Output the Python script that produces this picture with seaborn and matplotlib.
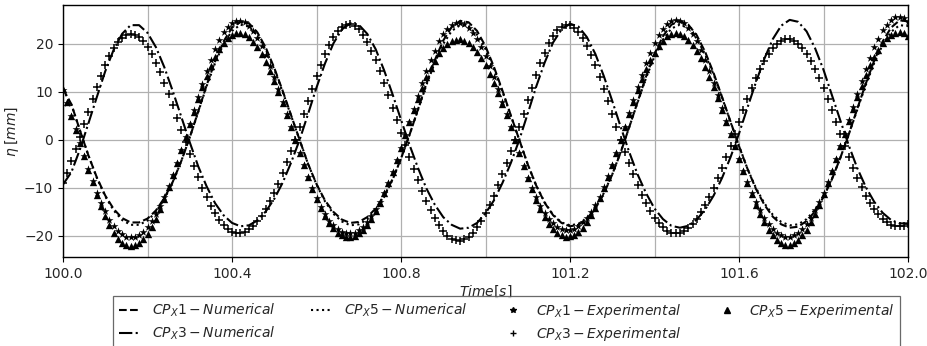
import numpy as np
import matplotlib
matplotlib.use("Agg")
import matplotlib.pyplot as plt
import seaborn as sns
from matplotlib.lines import Line2D
from matplotlib.ticker import MultipleLocator

# ---------------- data ----------------
time_num = np.linspace(100.0, 102.0, 101)   # numerical series, 0.02 s
time_exp = np.linspace(100.0, 102.0, 201)   # experimental series, 0.01 s

cpx1_num = [10.6, 7.4, 2.0, -3.2, -7.8, -11.6, -14.4, -16.3, -17.2, -17.2,
            -16.4, -14.7, -12.1, -8.7, -4.4, 0.5, 5.9, 11.4, 16.4, 20.5,
            23.4, 24.6, 24.3, 22.4, 19.2, 15.0, 10.2, 5.1, 0.0, -5.0,
            -9.2, -12.6, -15.0, -16.6, -17.3, -17.1, -16.1, -14.3, -11.7, -8.2,
            -3.9, 1.0, 6.3, 11.7, 16.6, 20.7, 23.5, 24.8, 24.5, 22.7,
            19.5, 15.2, 10.3, 5.1, 0.0, -5.1, -9.5, -13.1, -15.7, -17.3,
            -18.0, -17.7, -16.4, -14.3, -11.2, -7.2, -2.6, 2.6, 7.9, 13.2,
            17.9, 21.6, 24.0, 24.8, 24.0, 21.8, 18.3, 13.9, 8.9, 3.8,
            -1.3, -6.0, -10.2, -13.5, -16.0, -17.6, -18.3, -18.1, -16.9, -14.9,
            -11.9, -8.2, -3.7, 1.2, 6.5, 11.7, 16.5, 20.5, 23.4, 24.9,
            24.7]

cpx3_num = [-9.3, -6.7, -2.0, 3.4, 8.9, 14.3, 18.8, 22.1, 23.9, 23.9,
            22.3, 19.3, 15.1, 10.1, 4.8, -0.5, -5.5, -9.7, -13.2, -15.7,
            -17.3, -18.0, -17.8, -16.8, -14.9, -12.3, -8.9, -4.7, 0.0, 5.4,
            10.9, 15.9, 20.1, 23.0, 24.3, 24.0, 22.1, 18.9, 14.5, 9.5,
            4.2, -1.0, -5.8, -10.1, -13.5, -16.1, -17.7, -18.5, -18.3, -17.3,
            -15.3, -12.6, -9.0, -4.8, 0.0, 5.5, 11.1, 16.1, 20.3, 23.0,
            24.2, 23.6, 21.4, 17.9, 13.3, 8.1, 2.7, -2.5, -7.2, -11.1,
            -14.3, -16.5, -17.9, -18.3, -17.9, -16.6, -14.5, -11.6, -7.9, -3.6,
            1.3, 6.7, 12.0, 16.9, 21.0, 23.8, 25.0, 24.6, 22.6, 19.1,
            14.6, 9.3, 4.0, -1.2, -5.9, -9.8, -12.9, -15.2, -16.7, -17.4,
            -17.4]

cpx5_num = [10.5, 7.3, 2.0, -3.2, -7.9, -11.8, -14.7, -16.7, -17.7, -17.7,
            -16.8, -15.0, -12.3, -8.8, -4.4, 0.5, 5.8, 11.2, 16.0, 20.0,
            22.7, 24.0, 23.6, 21.8, 18.8, 14.7, 10.0, 5.0, 0.0, -5.0,
            -9.3, -12.8, -15.4, -17.0, -17.8, -17.6, -16.6, -14.6, -11.9, -8.3,
            -3.9, 1.0, 6.2, 11.4, 16.1, 20.0, 22.7, 23.9, 23.6, 21.9,
            18.9, 14.8, 10.1, 5.0, 0.0, -5.1, -9.5, -13.0, -15.6, -17.2,
            -17.8, -17.5, -16.3, -14.1, -11.1, -7.2, -2.5, 2.6, 7.8, 12.9,
            17.4, 20.9, 23.2, 24.0, 23.3, 21.1, 17.8, 13.6, 8.8, 3.7,
            -1.2, -6.0, -10.0, -13.2, -15.6, -17.1, -17.8, -17.6, -16.5, -14.5,
            -11.7, -8.1, -3.7, 1.2, 6.3, 11.4, 16.0, 19.8, 22.5, 23.9,
            23.7]

cpx1_exp = [10.4, 7.7, 4.9, 2.2, -0.6, -3.4, -6.1, -8.6, -11.0, -13.1,
            -14.9, -16.6, -17.9, -19.0, -19.7, -20.2, -20.3, -20.2, -19.8, -19.1,
            -18.1, -16.9, -15.4, -13.7, -11.8, -9.6, -7.3, -4.8, -2.2, 0.5,
            3.4, 6.2, 9.0, 11.7, 14.3, 16.7, 18.9, 20.8, 22.4, 23.6,
            24.4, 24.8, 24.8, 24.5, 23.8, 22.7, 21.3, 19.6, 17.6, 15.4,
            13.0, 10.5, 7.9, 5.3, 2.6, 0.0, -2.7, -5.3, -7.8, -10.0,
            -12.1, -13.9, -15.4, -16.8, -17.8, -18.6, -19.2, -19.5, -19.5, -19.3,
            -18.8, -18.1, -17.1, -15.9, -14.5, -12.9, -11.0, -8.9, -6.6, -4.2,
            -1.6, 1.1, 3.8, 6.5, 9.2, 11.9, 14.3, 16.6, 18.6, 20.5,
            22.0, 23.1, 23.9, 24.3, 24.4, 24.1, 23.4, 22.3, 21.0, 19.3,
            17.4, 15.3, 13.0, 10.5, 7.9, 5.3, 2.6, 0.0, -2.8, -5.4,
            -7.9, -10.1, -12.0, -13.8, -15.2, -16.5, -17.4, -18.1, -18.6, -18.8,
            -18.7, -18.5, -17.9, -17.2, -16.2, -15.0, -13.5, -11.8, -9.8, -7.6,
            -5.3, -2.7, 0.0, 2.7, 5.5, 8.3, 11.0, 13.5, 16.0, 18.2,
            20.2, 21.9, 23.2, 24.2, 24.8, 25.0, 24.8, 24.3, 23.4, 22.1,
            20.5, 18.7, 16.6, 14.3, 11.8, 9.3, 6.6, 4.0, 1.3, -1.3,
            -4.0, -6.5, -8.8, -11.0, -13.0, -14.7, -16.3, -17.5, -18.6, -19.4,
            -19.9, -20.2, -20.2, -19.9, -19.4, -18.6, -17.5, -16.3, -14.7, -13.0,
            -11.0, -8.8, -6.5, -4.0, -1.3, 1.3, 4.1, 6.8, 9.5, 12.2,
            14.7, 17.1, 19.3, 21.1, 22.8, 24.0, 24.9, 25.5, 25.6, 25.3,
            24.6]

cpx3_exp = [-9.0, -6.8, -4.4, -2.0, 0.5, 3.3, 5.9, 8.5, 11.1, 13.4,
            15.6, 17.5, 19.1, 20.4, 21.3, 21.9, 22.1, 21.9, 21.4, 20.5,
            19.4, 17.9, 16.1, 14.1, 11.9, 9.6, 7.2, 4.6, 2.1, -0.5,
            -3.0, -5.5, -7.8, -10.0, -12.0, -13.8, -15.3, -16.7, -17.7, -18.6,
            -19.1, -19.4, -19.4, -19.1, -18.6, -17.9, -17.0, -15.8, -14.4, -12.8,
            -11.0, -9.1, -7.0, -4.7, -2.4, 0.0, 2.6, 5.3, 8.0, 10.7,
            13.3, 15.7, 17.9, 19.8, 21.4, 22.7, 23.6, 24.0, 24.1, 23.7,
            23.0, 21.9, 20.4, 18.6, 16.6, 14.3, 11.9, 9.3, 6.7, 4.1,
            1.5, -1.0, -3.5, -6.0, -8.3, -10.6, -12.7, -14.6, -16.3, -17.8,
            -19.0, -20.0, -20.6, -20.9, -21.0, -20.7, -20.2, -19.3, -18.2, -16.9,
            -15.3, -13.5, -11.6, -9.4, -7.2, -4.8, -2.4, 0.0, 2.7, 5.4,
            8.3, 10.9, 13.5, 16.0, 18.1, 20.1, 21.7, 22.8, 23.6, 24.0,
            23.9, 23.4, 22.5, 21.2, 19.6, 17.7, 15.5, 13.1, 10.6, 8.0,
            5.3, 2.6, 0.0, -2.5, -4.9, -7.2, -9.4, -11.4, -13.2, -14.8,
            -16.2, -17.3, -18.2, -18.9, -19.3, -19.4, -19.3, -18.9, -18.3, -17.5,
            -16.4, -15.1, -13.6, -11.9, -10.1, -8.0, -5.9, -3.6, -1.2, 1.2,
            3.8, 6.2, 8.6, 10.8, 12.9, 14.8, 16.5, 17.9, 19.1, 20.0,
            20.7, 21.0, 21.0, 20.7, 20.0, 19.1, 17.9, 16.5, 14.8, 12.9,
            10.8, 8.6, 6.2, 3.8, 1.2, -1.2, -3.6, -5.8, -7.9, -9.8,
            -11.6, -13.1, -14.4, -15.5, -16.5, -17.2, -17.7, -17.9, -18.0, -17.9,
            -17.5]

cpx5_exp = [10.6, 7.9, 5.0, 2.1, -0.6, -3.4, -6.2, -8.8, -11.4, -13.7,
            -15.9, -17.7, -19.3, -20.6, -21.5, -22.0, -22.2, -22.0, -21.5, -20.7,
            -19.6, -18.1, -16.4, -14.5, -12.3, -9.9, -7.4, -4.9, -2.2, 0.5,
            3.3, 5.9, 8.5, 11.0, 13.3, 15.4, 17.3, 18.9, 20.2, 21.2,
            21.9, 22.3, 22.3, 22.0, 21.4, 20.4, 19.3, 17.8, 16.2, 14.3,
            12.2, 9.9, 7.6, 5.1, 2.6, 0.0, -2.7, -5.3, -7.8, -10.2,
            -12.3, -14.2, -15.9, -17.3, -18.4, -19.3, -19.9, -20.2, -20.3, -20.0,
            -19.5, -18.7, -17.7, -16.4, -14.9, -13.1, -11.1, -9.0, -6.6, -4.2,
            -1.6, 1.1, 3.7, 6.2, 8.6, 10.9, 13.0, 14.9, 16.5, 18.0,
            19.1, 20.0, 20.6, 20.9, 21.0, 20.7, 20.2, 19.4, 18.4, 17.1,
            15.5, 13.8, 11.9, 9.7, 7.5, 5.1, 2.6, 0.0, -2.8, -5.4,
            -8.0, -10.3, -12.5, -14.4, -16.0, -17.5, -18.6, -19.4, -19.9, -20.2,
            -20.1, -19.8, -19.2, -18.3, -17.1, -15.7, -14.1, -12.2, -10.0, -7.8,
            -5.3, -2.7, 0.0, 2.6, 5.3, 7.8, 10.3, 12.6, 14.7, 16.6,
            18.2, 19.6, 20.7, 21.6, 22.0, 22.2, 22.0, 21.6, 20.9, 19.8,
            18.5, 17.0, 15.2, 13.2, 11.1, 8.7, 6.3, 3.8, 1.3, -1.3,
            -4.0, -6.5, -9.0, -11.3, -13.5, -15.5, -17.2, -18.7, -19.9, -20.8,
            -21.5, -21.8, -21.8, -21.5, -20.8, -19.9, -18.7, -17.2, -15.5, -13.5,
            -11.3, -9.0, -6.5, -4.0, -1.3, 1.3, 3.9, 6.4, 8.9, 11.3,
            13.5, 15.5, 17.3, 18.8, 20.1, 21.2, 21.9, 22.3, 22.4, 22.2,
            21.6]

labels_num = [r'$CP_X1-Numerical$', r'$CP_X3-Numerical$', r'$CP_X5-Numerical$']
labels_exp = [r'$CP_X1-Experimental$', r'$CP_X3-Experimental$', r'$CP_X5-Experimental$']
x_ticks = [100.0, 100.4, 100.8, 101.2, 101.6, 102.0]
y_ticks = [-20, -10, 0, 10, 20]

# ---------------- figure ----------------
sns.set_style("ticks")
plt.rcParams['font.family'] = ['DejaVu Sans']
plt.rcParams['mathtext.fontset'] = 'dejavusans'

W, H = 928, 346
fig = plt.figure(figsize=(W / 100, H / 100), dpi=100)
ax = fig.add_axes([63 / W, 1 - 257 / H, (908 - 63) / W, (257 - 5) / H])

lw = 1.5
sns.lineplot(x=time_num, y=cpx1_num, ax=ax, color='black', linestyle='--', linewidth=lw, legend=False)
sns.lineplot(x=time_num, y=cpx3_num, ax=ax, color='black', linestyle='-.', linewidth=lw, legend=False)
sns.lineplot(x=time_num, y=cpx5_num, ax=ax, color='black', linestyle=':', linewidth=lw, legend=False)

sns.scatterplot(x=time_exp, y=cpx1_exp, ax=ax, color='black', marker='*', s=36, linewidth=0, legend=False)
sns.scatterplot(x=time_exp, y=cpx3_exp, ax=ax, color='black', marker='+', s=32, linewidth=1.1, legend=False)
sns.scatterplot(x=time_exp, y=cpx5_exp, ax=ax, color='black', marker='^', s=28, linewidth=0, legend=False)

ax.set_xlim(100.0, 102.0)
ax.set_ylim(-24.4, 28.1)
ax.set_xticks(x_ticks)
ax.set_xticklabels([f"{v:.1f}" for v in x_ticks])
ax.set_yticks(y_ticks)
ax.xaxis.set_minor_locator(MultipleLocator(0.2))
ax.grid(True, which='both', color='#b0b0b0', linewidth=0.9)
ax.tick_params(axis='both', which='major', labelsize=10, length=3.5, width=0.8, color='black', direction='out')
ax.tick_params(axis='x', which='minor', length=0)
for sp in ax.spines.values():
    sp.set_visible(True)
    sp.set_color('black')
    sp.set_linewidth(1.0)
ax.set_axisbelow(True)

ax.set_xlabel(r'$Time[s]$', fontsize=10, labelpad=2)
ax.set_ylabel(r'$\eta\;[mm]$', fontsize=10, labelpad=2)

handles = [
    Line2D([], [], color='black', linestyle='--', linewidth=lw),
    Line2D([], [], color='black', linestyle='-.', linewidth=lw),
    Line2D([], [], color='black', linestyle=':', linewidth=lw),
    Line2D([], [], linestyle='none'),
    Line2D([], [], color='black', marker='*', linestyle='none', markersize=4),
    Line2D([], [], color='black', marker='+', linestyle='none', markersize=4),
    Line2D([], [], color='black', marker='^', linestyle='none', markersize=4),
]
labels = [labels_num[0], labels_num[1], labels_num[2], '',
          labels_exp[0], labels_exp[1], labels_exp[2]]
leg = fig.legend(handles, labels, ncol=4, loc='upper center',
                 bbox_to_anchor=(0.546, 1 - 296 / H), fontsize=10,
                 frameon=True, fancybox=False, edgecolor='#444444',
                 handlelength=1.6, handletextpad=0.8, columnspacing=2.5,
                 borderpad=0.4, labelspacing=0.4, borderaxespad=0)
leg.get_frame().set_linewidth(0.9)

fig.savefig("out.png", dpi=100)
